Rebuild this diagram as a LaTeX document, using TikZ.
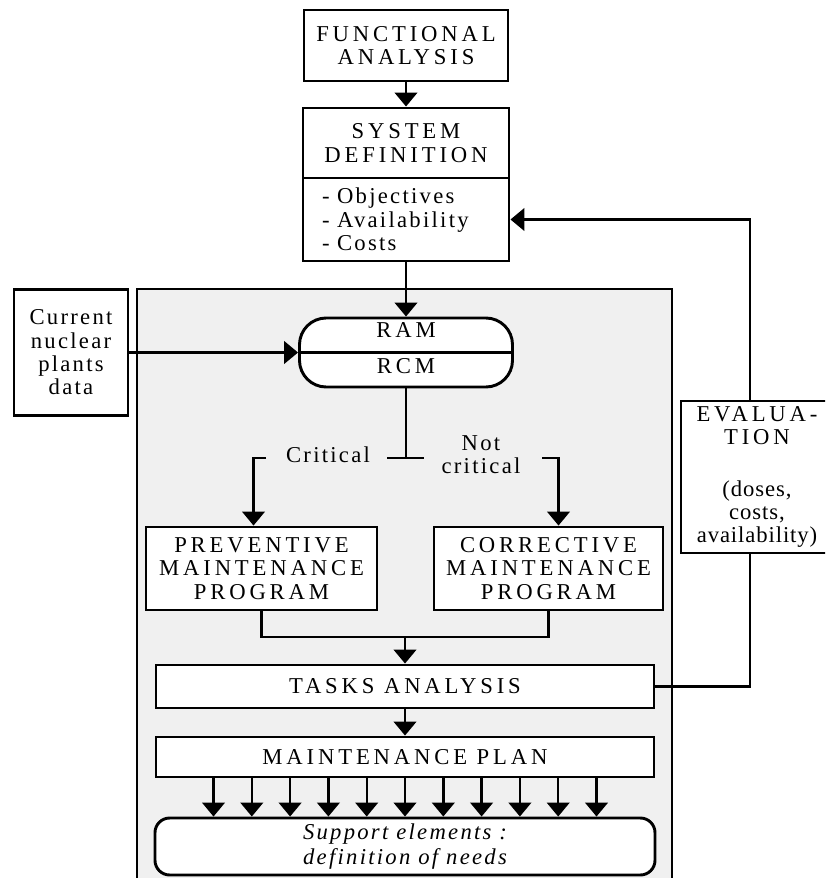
\documentclass[tikz,border=0pt]{standalone}
\usepackage{fontspec}
\setmainfont{Liberation Serif}
\newfontfamily\capsfont[LetterSpace=17]{Liberation Serif}
\newfontfamily\wordfont[LetterSpace=10]{Liberation Serif}
\newfontfamily\narrowfont[LetterSpace=4]{Liberation Serif}
\usetikzlibrary{arrows.meta,calc}

\tikzset{every picture/.style={line width=1.8pt}}
\tikzset{
  blockbox/.style={draw, line width=2.2pt, fill=white, inner sep=0pt, align=center,
    font=\capsfont\fontsize{17}{17.5}\selectfont},
  wordbox/.style={blockbox, font=\wordfont\fontsize{17}{17.5}\selectfont},
  plaintext/.style={inner sep=0pt, align=center, font=\wordfont\fontsize{17}{17.5}\selectfont},
  capstext/.style={inner sep=0pt, align=center, font=\capsfont\fontsize{17}{17.5}\selectfont},
  flowarrow/.style={-{Triangle[width=17pt,length=10.5pt]}}
}

\begin{document}
\begin{tikzpicture}[x=0.75pt,y=0.75pt,yscale=-1,xscale=1]
	\useasboundingbox (0,0) rectangle (825,878);
	\clip (0,0) rectangle (825,878);
	
	%Shaded frame
	\draw [line width=2.2pt, fill=black!6] (137,289) rectangle (672,895);
	
	% Text Node
	\node [blockbox, minimum width=153pt, minimum height=53.25pt] (fa) at (406,45.5) {FUNCTIONAL\\ANALYSIS};
	% Text Node
	\node [blockbox, minimum width=154.5pt, minimum height=52.5pt] (sdtitle) at (406,143) {SYSTEM\\DEFINITION};
	% Text Node
	\node [wordbox, minimum width=154.5pt, minimum height=62.25pt, text width=126pt, inner xsep=14.25pt, align=left] (sdlist) at (406,219.5) {- Objectives\\- Availability\\- Costs};
	% Text Node
	\node [wordbox, minimum width=85.5pt, minimum height=94.5pt] (cur) at (71,352.5) {Current\\nuclear\\plants\\data};
	% Text Node
	\node [blockbox, rounded corners=20pt, minimum width=159.75pt, minimum height=51.75pt] (ram) at (406,352.5) {};
	\node [capstext] (ramtxt) at (406,330) {RAM};
	\node [capstext] (rcmtxt) at (406,366) {RCM};
	% Text Node
	\node [plaintext] (crit) at (328,455) {Critical};
	% Text Node
	\node [plaintext] (ncrit) at (481,455) {Not\\critical};
	% Text Node
	\node [blockbox, minimum width=173.25pt, minimum height=62.25pt] (pm) at (261.5,568.5) {PREVENTIVE\\MAINTENANCE\\PROGRAM};
	% Text Node
	\node [blockbox, minimum width=171.75pt, minimum height=62.25pt] (cm) at (548.5,568.5) {CORRECTIVE\\MAINTENANCE\\PROGRAM};
	% Text Node
	\node [blockbox, minimum width=373.5pt, minimum height=32.25pt] (ta) at (405,686.5) {TASKS ANALYSIS};
	% Text Node
	\node [blockbox, minimum width=373.5pt, minimum height=30pt] (mp) at (405,757) {MAINTENANCE PLAN};
	% Text Node
	\node [wordbox, rounded corners=11pt, minimum width=375pt, minimum height=42.75pt, font=\wordfont\itshape\fontsize{17}{19}\selectfont] (se) at (405,846.5) {Support elements :\\definition of needs};
	% Text Node
	\node [blockbox, minimum width=114pt, minimum height=114pt] (ev) at (757,477) {EVALUA-\\TION\\[21pt]{\narrowfont (doses,}\\{\narrowfont costs,}\\{\narrowfont availability)}};
	
	\coordinate (tee) at (406,458);
	\coordinate (teeL) at (387,458);
	\coordinate (teeR) at (424,458);
	\coordinate (critE) at (266,458);
	\coordinate (ncritW) at (542,458);
	\coordinate (mrg) at (405,637);
	
	%Straight Lines
	\draw [flowarrow] (fa) -- (sdtitle);
	\draw [flowarrow] (sdlist) -- (ram);
	\draw [flowarrow] (cur) -- (ram.west);
	\draw [line width=2.2pt] (ram.west) -- (ram.east);
	\draw (ram.south) -- (tee);
	\draw (teeL) -- (teeR);
	\draw [flowarrow] (critE) -| ($(pm.north)+(-8,0)$);
	\draw [flowarrow] (ncritW) -| ($(cm.north)+(10,0)$);
	\draw (pm.south) |- (mrg) -| (cm.south);
	\draw [flowarrow] (mrg) -- (ta);
	\draw [flowarrow] (ta) -- (mp);
	\foreach \k in {-5,...,5}
		\draw [flowarrow] ($(mp.south)+({38.3*\k},0)$) -- ($(se.north)+({38.3*\k},0)$);
	%Feedback loop
	\draw (ta.east) -| ($(ev.south)+(-7,0)$);
	\draw [flowarrow] ($(ev.north)+(-7,0)$) |- (sdlist.east);
	
\end{tikzpicture}
\end{document}
